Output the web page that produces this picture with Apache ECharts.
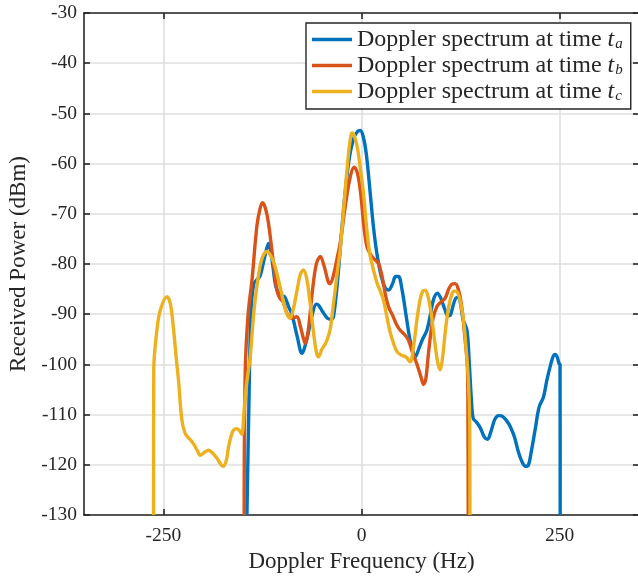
<!DOCTYPE html>
<html>
<head>
<meta charset="utf-8">
<script src="https://cdn.jsdelivr.net/npm/echarts@6/dist/echarts.min.js"></script>
<style>html,body{margin:0;padding:0;background:#fff;}#c{width:638px;height:576px;}</style>
</head>
<body>
<div id="c"></div>
<script>
// ---- data (Doppler frequency Hz, received power dBm) ----
const freqA = [-144.5,-142,-139.5,-136,-131,-127.7,-122,-117.3,-113,-108,-102.5,-97,-92,-87.8,-81,-75.2,-69,-62,-57,-54.2,-49,-43,-38,-35.3,-30,-22.7,-16,-10,-5,-1.6,2,6,11,15,19.4,25,30,34,39,43,46.7,51,56,61,65,67.7,72,77,82.5,87,91,95.8,100,105,109,111.9,116,119,122.3,125,128,133,136,139,141,145,149.7,155,159,163,168,173,177,183,188,193,198,203,207,210.6,214,219,224,229.5,234,239,242,244.3,247,249,250.4,250.6];
const powerA = [-130,-108,-90,-84,-83,-82.3,-78.5,-75.9,-79,-84.5,-86.2,-86.5,-88.5,-90,-94.5,-97.8,-95,-90,-88,-88.2,-89.5,-90.8,-91,-90.5,-83,-69.2,-59.5,-55,-53.6,-53.4,-54.5,-58,-65.9,-72.5,-77.9,-82.5,-84.8,-85.2,-84,-82.5,-82.5,-85,-90,-95,-97.5,-98.5,-97,-95,-93.2,-90,-87,-85.8,-86.8,-89,-90.3,-90.2,-88,-86.8,-86.6,-88,-91,-93.2,-100,-108,-110.8,-111.5,-112.6,-114.5,-114.9,-113.5,-111,-110.2,-110.3,-111.2,-112.5,-114.5,-117.5,-119.6,-120.3,-120,-117.5,-113,-108.5,-106.5,-103,-99.8,-98.3,-98,-98.6,-99.8,-100,-130];

const freqB = [-148,-146.7,-143,-138,-132,-128,-124.8,-121,-117.3,-111,-106.7,-103,-99,-94,-88,-81.5,-77,-73,-71,-67,-62,-57,-52,-47,-42,-39.5,-35,-31,-26.9,-20,-14,-9.2,-5,-1,3,6.8,11,16,21.4,26,30,34,40,44,48.8,54,59.3,64,70,75,78.2,81,85,90,95,100,105.5,110,114,118.2,122,126,130,133.7,134.3,134.6];
const powerB = [-130,-101.7,-90,-83,-72.5,-69,-67.8,-69,-71.9,-79.9,-85.2,-86.8,-87.5,-89.8,-90.8,-90.5,-92.5,-95,-95.8,-93,-85.5,-80,-78.5,-80.5,-83.5,-83.9,-82,-79,-75.9,-68,-62.5,-60.7,-62,-66,-72.5,-76.5,-78,-79,-79.9,-82.5,-86,-88.5,-90.5,-92,-93.2,-94,-95.2,-97.5,-100,-102.5,-104,-103,-97,-91,-88.5,-87.6,-86.8,-85,-84,-83.9,-85,-88,-94,-101.1,-112,-130];

const freqC = [-262.3,-262,-258,-253.8,-245.4,-241,-237,-233.5,-230.8,-226.5,-222.3,-216,-211.9,-207,-203.4,-198,-193,-187,-182.3,-177,-174,-170,-167.7,-164,-161.4,-157,-153,-150.8,-148,-145,-140.4,-136,-132,-128,-124,-119.3,-115,-110,-106.7,-102,-97,-93,-90,-86,-81,-77,-73.1,-69,-65,-61,-57,-54.2,-50,-46,-43.6,-39.5,-35,-30,-26.9,-22,-17,-14,-12.1,-9,-5,-1,2.5,6,10,15.1,20,24,27.7,32,36,40.4,45,50.9,56,61.4,66,70,74,77,80.3,84,88,92,96,99.2,102,106,110,114,117,120.3,124,128,131,135,136.5,136.8];
const powerC = [-130,-101,-93.1,-89.2,-86.5,-88,-93.1,-99,-103.2,-111.1,-113.8,-115,-115.8,-117.2,-118.1,-117.5,-117.1,-117.8,-118.7,-120,-120.3,-118.8,-116.4,-114,-113.1,-112.8,-113.4,-113.9,-109,-104,-98.5,-90,-84.5,-80.5,-78.3,-77.5,-78.2,-80,-81.9,-85,-88.5,-90.3,-90.8,-89,-85,-82,-81.2,-83,-87.5,-93,-97.5,-98.5,-97,-96,-95.2,-93,-87.5,-81,-77.2,-68,-59,-55,-53.9,-54.5,-57,-61.5,-65.9,-72,-77.5,-81.2,-84,-85.5,-87.2,-90.5,-93.5,-95.8,-97.5,-98.2,-98.5,-99.5,-96,-91,-87,-85.5,-85.2,-86.5,-90,-95,-99.5,-101.1,-99,-93,-88.5,-86,-85.4,-85.5,-87,-90.5,-95,-103.8,-112,-130];

const seriesNames = ['Doppler spectrum at time t_a','Doppler spectrum at time t_b','Doppler spectrum at time t_c'];
const legendMain = 'Doppler spectrum at time ';
const legendSubs = ['a','b','c'];
const xTicks = [-250, 0, 250];
const xLabel = 'Doppler Frequency (Hz)';
const yLabel = 'Received Power (dBm)';
const colors = ['#0072BD','#D95319','#EDB120'];

function pairs(xs, ys){ return xs.map((x,i)=>[x, ys[i]]); }

const FONT = 'Liberation Serif';
const DARK = '#262626';
const chart = echarts.init(document.getElementById('c'), null, {renderer:'canvas'});

const dataSets = [pairs(freqA,powerA), pairs(freqB,powerB), pairs(freqC,powerC)];

const series = dataSets.map((d,i)=>({
  name: seriesNames[i],
  type: 'line',
  data: d,
  xAxisIndex: 0, yAxisIndex: 0,
  showSymbol: false,
  symbol: 'none',
  smooth: 0.35,
  lineStyle: {color: colors[i], width: 3.4},
  itemStyle: {color: colors[i]},
  emphasis: {disabled: true},
  animation: false,
  z: 3 + i
}));

chart.setOption({
  animation: false,
  color: colors,
  grid: {left: 84, top: 13, width: 555, height: 502, containLabel: false, outerBoundsMode: 'none'},
  legend: {
    orient: 'vertical',
    left: 306, top: 23,
    padding: [4, 8, 5, 6],
    itemGap: 1,
    itemWidth: 40, itemHeight: 3.4,
    icon: 'rect',
    backgroundColor: '#fff',
    borderColor: DARK, borderWidth: 1.4,
    data: seriesNames,
    formatter: function(name){
      const i = seriesNames.indexOf(name);
      return '{n|' + legendMain + '}{t|t}{s|' + legendSubs[i] + '}';
    },
    textStyle: {
      fontFamily: FONT, fontSize: 24, color: DARK,
      rich: {
        n: {fontFamily: FONT, fontSize: 24, color: DARK, lineHeight: 26},
        t: {fontFamily: FONT, fontSize: 24, fontStyle: 'italic', color: DARK, lineHeight: 26},
        s: {fontFamily: FONT, fontSize: 15, fontStyle: 'italic', color: DARK, padding: [10,0,0,1], lineHeight: 26}
      }
    }
  },
  xAxis: [{
    type: 'value', min: -350, max: 350, position: 'bottom',
    name: xLabel, nameLocation: 'middle', nameGap: 34,
    nameTextStyle: {fontFamily: FONT, fontSize: 23, color: DARK},
    axisLine: {show: true, onZero: false, lineStyle: {color: DARK, width: 1.6}},
    axisTick: {show: true, inside: true, length: 6, customValues: xTicks, lineStyle: {color: DARK, width: 1.6}},
    axisLabel: {customValues: xTicks, fontFamily: FONT, fontSize: 19.5, color: DARK, margin: 11},
    splitLine: {show: true, lineStyle: {color: '#dfdfdf', width: 1.6}}
  },{
    type: 'value', min: -350, max: 350, position: 'top',
    axisLine: {show: true, onZero: false, lineStyle: {color: DARK, width: 1.6}},
    axisTick: {show: true, inside: true, length: 6, customValues: xTicks, lineStyle: {color: DARK, width: 1.6}},
    axisLabel: {show: false},
    splitLine: {show: false}
  }],
  yAxis: [{
    type: 'value', min: -130, max: -30, interval: 10, position: 'left',
    name: yLabel, nameLocation: 'middle', nameGap: 52, nameRotate: 90,
    nameTextStyle: {fontFamily: FONT, fontSize: 23, color: DARK},
    axisLine: {show: true, onZero: false, lineStyle: {color: DARK, width: 1.6}},
    axisTick: {show: true, inside: true, length: 6, lineStyle: {color: DARK, width: 1.6}},
    axisLabel: {fontFamily: FONT, fontSize: 19.5, color: DARK, margin: 7},
    splitLine: {show: true, lineStyle: {color: '#dfdfdf', width: 1.6}}
  },{
    type: 'value', min: -130, max: -30, interval: 10, position: 'right',
    axisLine: {show: true, onZero: false, lineStyle: {color: DARK, width: 1.6}},
    axisTick: {show: true, inside: true, length: 6, lineStyle: {color: DARK, width: 1.6}},
    axisLabel: {show: false},
    splitLine: {show: false}
  }],
  series: series
});
</script>
</body>
</html>
